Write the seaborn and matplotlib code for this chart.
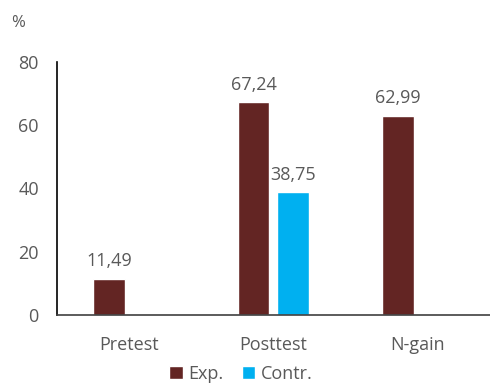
import numpy as np
import pandas as pd
import matplotlib
matplotlib.use("Agg")
import matplotlib.pyplot as plt
import seaborn as sns

categories = ["Pretest", "Posttest", "N-gain"]
series_names = ["Exp.", "Contr."]
exp_values = [11.49, 67.24, 62.99]
contr_values = [np.nan, 38.75, np.nan]
y_ticks = [0, 20, 40, 60, 80]

sns.set_theme(style="white")
plt.rcParams["font.family"] = ["Open Sans", "DejaVu Sans"]

df = pd.DataFrame({
    "cat": categories * 2,
    "series": [series_names[0]] * 3 + [series_names[1]] * 3,
    "value": exp_values + contr_values,
})

colors = {"Exp.": "#632523", "Contr.": "#00B0F0"}
text_col = "#595959"

fig = plt.figure(figsize=(4.9, 3.85), dpi=100)
ax = fig.add_axes([0.116, 0.182, 0.884, 0.657])
sns.barplot(data=df, x="cat", y="value", hue="series", order=categories,
            hue_order=series_names, palette=colors, width=0.55, gap=0.2,
            ax=ax, legend=True, saturation=1)

ax.set_xlim(-0.5, 2.5)
ax.set_ylim(0, 80)
ax.set_yticks(y_ticks)
ax.set_xlabel("")
ax.set_ylabel("")
ax.tick_params(axis="both", length=0, colors=text_col, labelsize=13)
ax.tick_params(axis="x", pad=15)
ax.tick_params(axis="y", pad=13)
for s in ["top", "right"]:
    ax.spines[s].set_visible(False)
ax.spines["left"].set_color("#000000")
ax.spines["left"].set_linewidth(1.2)
ax.spines["bottom"].set_color("#404040")
ax.spines["bottom"].set_linewidth(1.2)

for cont in ax.containers:
    labels = []
    for bar in cont:
        h = bar.get_height()
        if np.isnan(h) or h == 0:
            labels.append("")
        else:
            labels.append(f"{h:.2f}".replace(".", ","))
    ax.bar_label(cont, labels=labels, padding=6, color=text_col, fontsize=13)

handles, labs = ax.get_legend_handles_labels()
ax.legend(handles, labs, loc="lower center", bbox_to_anchor=(0.425, -0.305),
          ncol=2, frameon=False, fontsize=13, labelcolor=text_col,
          handlelength=0.75, handleheight=0.75, handletextpad=0.3, columnspacing=1.0,
          borderpad=0.0)

fig.text(0.022, 0.93, "%", color=text_col, fontsize=12)

fig.savefig("out.png", dpi=100)
